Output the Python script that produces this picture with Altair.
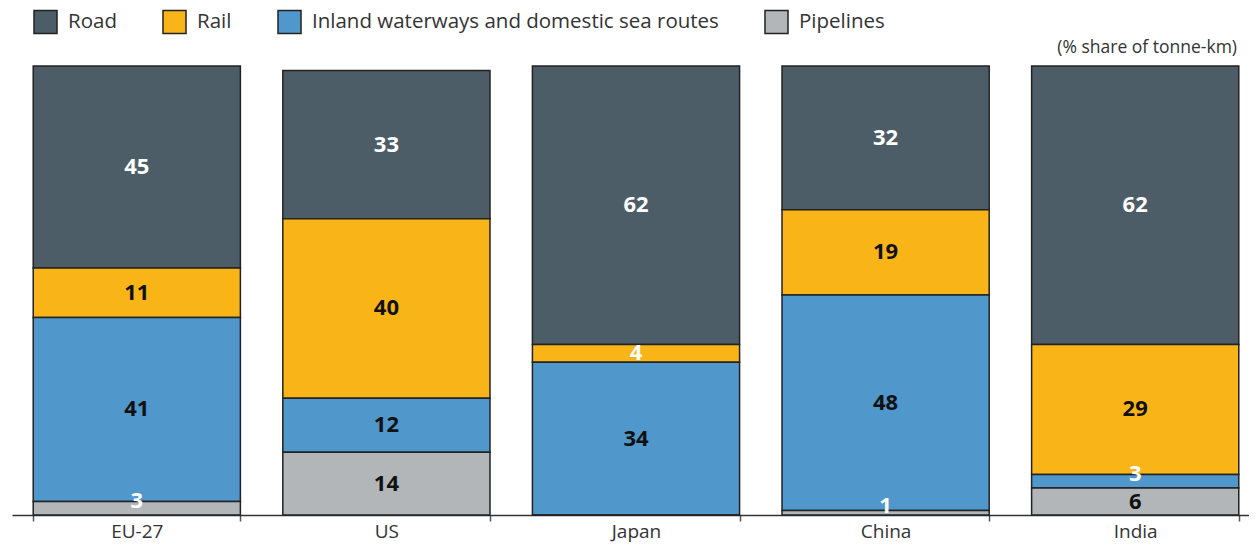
import altair as alt
import pandas as pd

countries = ["EU-27", "US", "Japan", "China", "India"]
modes = ["Road", "Rail", "Inland waterways and domestic sea routes", "Pipelines"]
road = [45, 33, 62, 32, 62]
rail = [11, 40, 4, 19, 29]
water = [41, 12, 34, 48, 3]
pipe = [3, 14, 0, 1, 6]
colors = ["#4d5d68", "#f9b518", "#5097cc", "#b2b6b9"]
note_text = "(% share of tonne-km)"

series = [road, rail, water, pipe]
rows = []
for ci, c in enumerate(countries):
    for mi, m in enumerate(modes):
        rows.append({"country": c, "mode": m, "v": series[mi][ci], "ord": 3 - mi})
df = pd.DataFrame(rows)

base = alt.Chart(df).transform_stack(
    stack="v", groupby=["country"], sort=[alt.SortField("ord", order="ascending")], as_=["y0", "y1"]
).transform_calculate(
    mid="(datum.y0 + datum.y1) / 2",
    tc="(datum.mode == 'Road' || datum.v <= 4) ? 'white' : '#111111'",
)

xenc = alt.X(
    "country:N",
    sort=countries,
    scale=alt.Scale(range=[0, 1248], paddingInner=0.17, paddingOuter=0.085),
    axis=alt.Axis(
        title=None, tickBand="extent", domainColor="#333333", domainWidth=1.5,
        tickColor="#555555", tickSize=6, tickWidth=1.5, labelFontSize=19,
        labelFont="Open Sans", labelColor="#333333", labelPadding=1, labelAngle=0,
    ),
)
yscale = alt.Scale(domain=[0, 100], nice=False)

bars = base.mark_bar(stroke="#222222", strokeWidth=1.5).encode(
    x=xenc,
    y=alt.Y("y0:Q", scale=yscale, axis=None),
    y2="y1:Q",
    fill=alt.Fill(
        "mode:N",
        scale=alt.Scale(domain=modes, range=colors),
        legend=alt.Legend(
            title=None, orient="none", legendX=21, legendY=-57, direction="horizontal",
            symbolType="square", symbolSize=530, symbolStrokeColor="#222222",
            symbolStrokeWidth=1.5, symbolOpacity=1, labelFontSize=20.5, labelFont="Open Sans",
            labelColor="#333333", labelOffset=10, columnPadding=42, labelLimit=600,
        ),
    ),
)

labels_big = base.transform_filter("datum.v > 3").mark_text(
    font="Open Sans", fontSize=22, fontWeight="bold"
).encode(
    x=alt.X("country:N", sort=countries),
    y=alt.Y("mid:Q", scale=yscale),
    text="v:Q",
    color=alt.Color("tc:N", scale=None),
)

labels_small = base.transform_filter("datum.v > 0 && datum.v <= 3").mark_text(
    font="Open Sans", fontSize=22, fontWeight="bold", dy=-7
).encode(
    x=alt.X("country:N", sort=countries),
    y=alt.Y("mid:Q", scale=yscale),
    text="v:Q",
    color=alt.Color("tc:N", scale=None),
)

note = alt.Chart(pd.DataFrame({"t": [note_text]})).mark_text(
    font="Open Sans", fontSize=17.5, color="#333333", align="right", baseline="middle"
).encode(text="t:N", x=alt.value(1225), y=alt.value(-18))

chart = alt.layer(bars, labels_big, labels_small, note).properties(
    width=1237, height=449,
    autosize=alt.AutoSizeParams(type="none"),
    padding={"left": 4, "top": 58, "right": 0, "bottom": 29},
).configure_view(stroke=None)

chart.save("out.html", embed_options={"renderer": "svg", "actions": False})
